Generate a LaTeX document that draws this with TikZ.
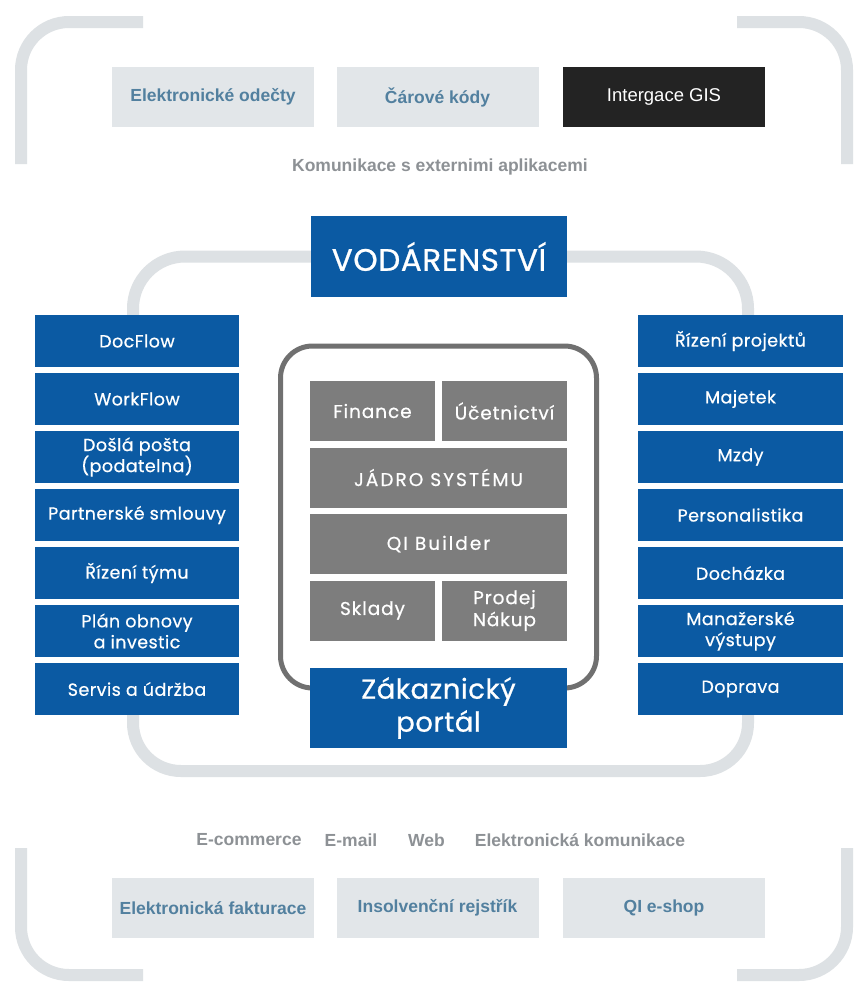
\documentclass[tikz,border=0pt]{standalone}
\usepackage{fontspec}
\setmainfont{Liberation Sans}
\newfontfamily\gfont[LetterSpace=2.5,FakeBold=0.6]{Poppins}
\newfontfamily\gfontc[LetterSpace=5,FakeBold=0.6]{Poppins}
\newfontfamily\gfontw[LetterSpace=11,FakeBold=0.6]{Poppins}
\newfontfamily\gfontb[LetterSpace=2,FakeBold=0.8]{Poppins}
\definecolor{qblue}{HTML}{0B5AA3}
\definecolor{qgray}{HTML}{7D7D7D}
\definecolor{qline}{HTML}{707070}
\definecolor{band}{HTML}{DDE1E4}
\definecolor{lbox}{HTML}{E2E6E9}
\definecolor{ltext}{HTML}{52809F}
\definecolor{captxt}{HTML}{8D9195}
\definecolor{darkbox}{HTML}{232323}
\pgfdeclarelayer{bg}
\pgfsetlayers{bg,main}
\begin{document}
\begin{tikzpicture}[x=1pt,y=-1pt,
 bandline/.style={draw=band, line width=12pt},
 colbox/.style={fill=qblue, text=white, minimum width=204, minimum height=52, inner sep=0, align=center, font=\gfont\fontsize{17.5}{21}\selectfont},
 corebox/.style={fill=qgray, text=white, minimum height=60, inner sep=0, align=center, font=\gfontc\fontsize{18.5}{22}\selectfont},
 bigbox/.style={fill=qblue, text=white, minimum width=257, minimum height=80, inner sep=0, align=center},
 extbox/.style={fill=lbox, text=ltext, minimum width=202, minimum height=60, inner sep=0, font=\bfseries\fontsize{17.5}{20}\selectfont},
 captext/.style={text=captxt, inner sep=0, font=\bfseries\fontsize{17.5}{20}\selectfont},
 frame/.style={draw=qline, line width=5pt, rounded corners=32pt},
]
\useasboundingbox (0,0) rectangle (855,986);
\begin{pgfonlayer}{bg}
\fill[white] (0,0) rectangle (855,986);
\end{pgfonlayer}

% outer brackets
\draw[bandline, rounded corners=48pt] (143,22) -- (21,22) -- (21,164);
\draw[bandline, rounded corners=48pt] (737,22) -- (847,22) -- (847,164);
\draw[bandline, rounded corners=48pt] (21,848) -- (21,975) -- (143,975);
\draw[bandline, rounded corners=48pt] (847,848) -- (847,975) -- (737,975);

% external applications
\node[extbox] (odecty) at (213,97) {Elektronické odečty};
\node[extbox] (kody) at (437.5,97) {Čárové kódy};
\node[extbox, fill=darkbox, text=white, font=\fontsize{18.5}{20}\selectfont] (gis) at (664,97) {Intergace GIS};
\node[captext] (kom) at (440,167) {Komunikace s externimi aplikacemi};

% core frame
\draw[frame] (280.5,346) rectangle (596.5,688);

% main boxes
\node[bigbox, minimum width=256, minimum height=81, font=\gfontb\fontsize{31}{33}\selectfont] (vod) at (439,256.5) {VODÁRENSTVÍ};
\node[bigbox, font=\gfontb\fontsize{27.5}{33}\selectfont] (portal) at (438.5,708) {Zákaznický\\portál};

% core blocks
\node[corebox, minimum width=125] (fin) at (372.5,411) {Finance};
\node[corebox, minimum width=125] (uce) at (504.5,411) {Účetnictví};
\node[corebox, minimum width=257, font=\gfontw\fontsize{18.5}{22}\selectfont] (jadro) at (438.5,477.5) {JÁDRO SYSTÉMU};
\node[corebox, minimum width=257, font=\gfontw\fontsize{18.5}{22}\selectfont] (qib) at (438.5,544) {QI Builder};
\node[corebox, minimum width=125] (skl) at (372.5,610.5) {Sklady};
\node[corebox, minimum width=125] (pro) at (504.5,610.5) {Prodej\\Nákup};

% left column
\node[colbox] (docflow) at (137,341) {DocFlow};
\node[colbox] (workflow) at (137,399) {WorkFlow};
\node[colbox] (posta) at (137,457) {Došlá pošta\\(podatelna)};
\node[colbox] (smlouvy) at (137,515) {Partnerské smlouvy};
\node[colbox] (tym) at (137,573) {Řízení týmu};
\node[colbox] (plan) at (137,631) {Plán obnovy\\a investic};
\node[colbox] (servis) at (137,689) {Servis a údržba};

% right column
\node[colbox, minimum width=205] (projekty) at (740.5,341) {Řízení projektů};
\node[colbox, minimum width=205] (majetek) at (740.5,399) {Majetek};
\node[colbox, minimum width=205] (mzdy) at (740.5,457) {Mzdy};
\node[colbox, minimum width=205] (person) at (740.5,515) {Personalistika};
\node[colbox, minimum width=205] (dochazka) at (740.5,573) {Docházka};
\node[colbox, minimum width=205] (manaz) at (740.5,631) {Manažerské\\výstupy};
\node[colbox, minimum width=205] (doprava) at (740.5,689) {Doprava};

% bottom texts
\node[captext] (ecom) at (249,840) {E-commerce};
\node[captext] (email) at (351,840) {E-mail};
\node[captext] (web) at (426.5,840) {Web};
\node[captext] (ekom) at (580,840) {Elektronická komunikace};

% bottom external boxes
\node[extbox] (faktura) at (213,908) {Elektronická fakturace};
\node[extbox] (insolv) at (437.5,908) {Insolvenční rejstřík};
\node[extbox] (eshop) at (664,908) {QI e-shop};

% loop connectors
\coordinate (lb) at (440,771);
\begin{pgfonlayer}{bg}
\draw[bandline, rounded corners=52pt] (vod.center) -| ([xshift=-4pt]docflow.center);
\draw[bandline, rounded corners=52pt] (vod.center) -| ([xshift=7.5pt]projekty.center);
\draw[bandline, rounded corners=48pt] ([xshift=-4pt]servis.center) |- (lb) -| ([xshift=7.5pt]doprava.center);
\end{pgfonlayer}
\end{tikzpicture}
\end{document}
